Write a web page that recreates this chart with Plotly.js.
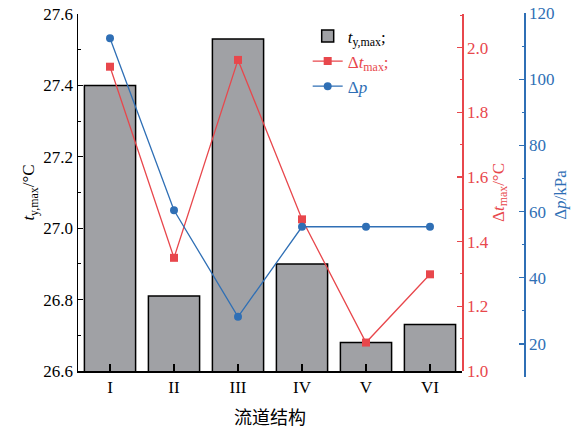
<!DOCTYPE html>
<html>
<head>
<meta charset="utf-8">
<script src="https://cdn.plot.ly/plotly-3.0.1.min.js"></script>
<style>html,body{margin:0;padding:0;background:#fff;}#chart{width:576px;height:432px;}</style>
</head>
<body>
<div id="chart"></div>
<script>
// ---- data ----
const categories = ["I", "II", "III", "IV", "V", "VI"];
const tyMax = [27.40, 26.81, 27.53, 26.90, 26.68, 26.73];      // t_y,max / °C (bars, left axis)
const dtMax = [1.941, 1.350, 1.962, 1.469, 1.088, 1.299];      // Δt_max / °C (red, right axis)
const dp = [112.4, 60.4, 28.2, 55.4, 55.4, 55.4];              // Δp / kPa (blue, far right axis)

const RED = "#e8474c";
const BLUE = "#2f6fb5";
const FONT = "'Liberation Serif', 'Noto Sans CJK SC', serif";

const traces = [
  {
    type: "bar", x: categories, y: tyMax, xaxis: "x", yaxis: "y",
    name: "<i>t</i><sub>y,max</sub>;",
    width: 0.8,
    marker: {color: "#a0a1a5", line: {color: "#000", width: 1.5}},
    hoverinfo: "skip"
  },
  {
    type: "scatter", mode: "lines+markers", x: categories, y: dtMax, xaxis: "x", yaxis: "y2",
    name: "<span style='color:" + RED + "'>Δ<i>t</i><sub>max</sub>;</span>",
    line: {color: RED, width: 1.3},
    marker: {symbol: "square", size: 8, color: RED}
  },
  {
    type: "scatter", mode: "lines+markers", x: categories, y: dp, xaxis: "x2", yaxis: "y3",
    name: "<span style='color:" + BLUE + "'>Δ<i>p</i></span>",
    line: {color: BLUE, width: 1.3},
    marker: {symbol: "circle", size: 8, color: BLUE}
  }
];

const xdom = [0, 384 / 446];

const layout = {
  width: 576, height: 432,
  margin: {l: 78, r: 52, t: 13, b: 55},
  paper_bgcolor: "#fff",
  plot_bgcolor: "rgba(0,0,0,0)",
  font: {family: FONT, size: 17, color: "#000"},
  showlegend: true,
  legend: {
    x: 0.515, y: 0.985, xanchor: "left", yanchor: "top",
    bgcolor: "rgba(0,0,0,0)", font: {family: FONT, size: 17},
    tracegroupgap: 0
  },
  xaxis: {
    domain: xdom, anchor: "y",
    type: "category", range: [-0.5, 5.5],
    showline: true, linecolor: "#000", linewidth: 1.5,
    ticks: "inside", ticklen: 7, tickcolor: "#000", tickwidth: 1.2,
    showgrid: false, zeroline: false,
    tickfont: {family: FONT, size: 17, color: "#000"},
    title: {text: "流道结构", font: {family: FONT, size: 18, color: "#000"}, standoff: 15}
  },
  xaxis2: {
    domain: xdom, anchor: "y3", overlaying: "x",
    type: "category", range: [-0.5, 5.5],
    visible: false, showgrid: false, zeroline: false
  },
  yaxis: {
    domain: [6 / 364, 1 - 1 / 364], anchor: "x",
    range: [26.6, 27.6], dtick: 0.2, tick0: 26.6, tickformat: ".1f",
    showline: true, linecolor: "#000", linewidth: 1.5,
    ticks: "inside", ticklen: 5, tickcolor: "#000", tickwidth: 1.2,
    minor: {dtick: 0.1, ticks: "inside", ticklen: 2.5, tickcolor: "#000", tickwidth: 1},
    showgrid: false, zeroline: false,
    tickfont: {family: FONT, size: 17, color: "#000"},
    title: {text: "<i>t</i><sub>y,max</sub>/°C", font: {family: FONT, size: 17, color: "#000"}, standoff: 4}
  },
  yaxis2: {
    overlaying: "y", anchor: "free", position: xdom[1], side: "right",
    range: [1.0, 2.104], dtick: 0.2, tick0: 1.0, tickformat: ".1f",
    showline: true, linecolor: RED, linewidth: 1.5,
    ticks: "inside", ticklen: 5, tickcolor: RED, tickwidth: 1.2,
    minor: {dtick: 0.1, ticks: "inside", ticklen: 2.5, tickcolor: RED, tickwidth: 1},
    showgrid: false, zeroline: false,
    tickfont: {family: FONT, size: 17, color: RED},
    title: {text: "Δ<i>t</i><sub>max</sub>/°C", font: {family: FONT, size: 17, color: RED}, standoff: 4}
  },
  yaxis3: {
    domain: [0, 1], anchor: "free", position: 1, side: "right",
    range: [10, 120], dtick: 20, tick0: 0,
    showline: true, linecolor: BLUE, linewidth: 1.5,
    ticks: "inside", ticklen: 5, tickcolor: BLUE, tickwidth: 1.2,
    minor: {dtick: 10, ticks: "inside", ticklen: 2.5, tickcolor: BLUE, tickwidth: 1},
    showgrid: false, zeroline: false,
    tickfont: {family: FONT, size: 17, color: BLUE},
    title: {text: "Δ<i>p</i>/kPa", font: {family: FONT, size: 17, color: BLUE}, standoff: 0}
  }
};

Plotly.newPlot("chart", traces, layout, {displayModeBar: false, staticPlot: true});
</script>
</body>
</html>
